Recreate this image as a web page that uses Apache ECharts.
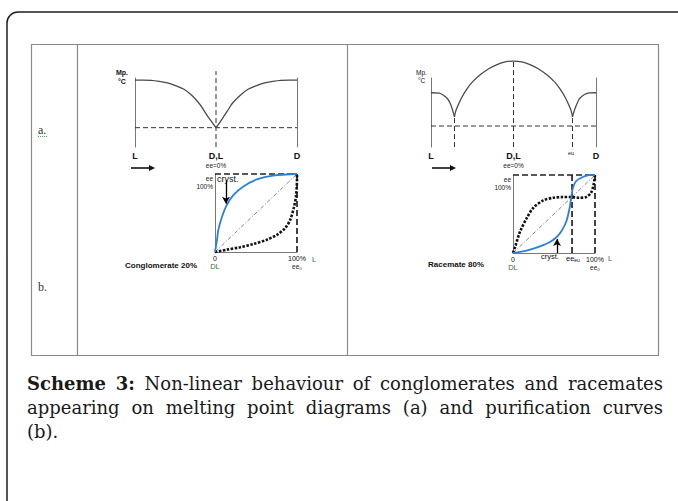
<!DOCTYPE html>
<html><head><meta charset="utf-8">
<script src="https://cdn.jsdelivr.net/npm/echarts/dist/echarts.min.js"></script>
<style>html,body{margin:0;padding:0;background:#fff}#c{width:678px;height:501px}</style>
</head><body><div id="c"></div>
<script>
// ================= DATA =================
// (a) melting point diagrams, x = ee from L (-100) to D (+100)
const mpTickValues = [-100, 0, 100];
const mpTickLabels = ['L', 'D,L', 'D'];
const mpTickSubLabels = ['', 'ee=0%', ''];

// conglomerate: two branches meeting at the eutectic (ee = 0)
const congLeftX  = [-100, -90, -80, -70, -60, -50, -40, -30, -20, -15, -10, -5, 0];
const congLeftY  = [97, 97, 96.5, 95, 93, 89, 84, 75, 62, 53, 44, 36, 28];
const congRightX = [0, 5, 10, 15, 20, 30, 40, 50, 60, 70, 80, 90, 100];
const congRightY = [28, 36, 45, 54, 63, 75, 84, 89, 93, 95, 96.5, 97, 97];
const congEutectic = 28;
const congCenterTop = 110;

// racemate: pure-enantiomer branches + racemic-compound dome
const racLeftX  = [-100, -90, -85, -80, -77, -74.5, -71.5];
const racLeftY  = [78.6, 78, 75, 70, 64, 56, 43.5];
const racDomeX  = [-71.5, -70, -67, -63, -57, -50, -40, -30, -20, -10, 0, 10, 20, 30, 40, 50, 57, 63, 67, 70, 71.5];
const racDomeY  = [43.5, 52, 61, 71, 83, 94, 105, 113.5, 119.5, 123.5, 124.6, 123.5, 119.5, 113.5, 105, 94, 83, 71, 61, 52, 43.5];
const racRightX = [71.5, 73, 76, 80, 86, 92, 100];
const racRightY = [43.5, 50, 60, 70, 76, 78.5, 78.6];
const racEutecticX = [-71.5, 71.5];
const racEutecticY = 30.4;
const racCusp = 43.5;
const racCenterTop = 124.6;

// (b) purification curves, x = ee0 (%), y = ee of crystals (%)
const purTickValues = [0, 100];
const purTickLabels = ['0', '100%'];
const purTickSubLabels = ['DL', 'ee\u2080'];

const congBlueX  = [0, 2.5, 4, 8.2, 14.3, 22.4, 34.7, 51, 71, 100];
const congBlueY  = [0, 16, 28, 44, 60, 73, 84, 93, 98, 100];
const congBlackX = [0, 14.3, 30.6, 47, 63.3, 75.5, 85.7, 91.8, 96, 98.8, 100, 100];
const congBlackY = [0, 3, 6, 10.3, 15.8, 22, 30.8, 41.5, 56.4, 71.4, 95, 100];
const congArrow  = [[13.4, 92], [13.4, 62]];

const racBlackX = [0, 2.8, 8.8, 16.9, 24.9, 37, 49, 61, 71.1, 81.1, 89.2, 95.2, 98.4, 100];
const racBlackY = [0, 8.6, 27.9, 45, 58, 67.4, 70.8, 71.7, 71.7, 70.8, 71.7, 77.3, 88, 100];
const racBlueX  = [0, 8.8, 20.9, 32.9, 45, 53, 59, 65.1, 69.1, 71.1, 73.1, 77.1, 85.1, 93.2, 100];
const racBlueY  = [0, 1.3, 4.3, 8.6, 14.2, 20.2, 27.9, 40.8, 57.9, 71.7, 83.7, 92.3, 97.4, 100, 100];
const racEeEu = 72;
const racArrow = [[53.7, 0], [53.7, 18]];

// caption
const captionLines = [
  'Scheme 3: Non-linear behaviour of conglomerates and racemates',
  'appearing on melting point diagrams (a) and purification curves',
  '(b).'
];
const captionBoldWords = 2;

// ================= HELPERS =================
const pairs = (xs, ys) => xs.map((x, i) => [x, ys[i]]);
const SANS = '"Liberation Sans", Arial, sans-serif';
const SERIF = '"DejaVu Serif", serif';
const GREEN = '#2f7a2f';

const curveGray = { color: '#4a4a4a', width: 1.3 };
const thinDash  = { color: '#333', width: 1, type: [5, 3] };
const boxDash   = { color: '#222', width: 1.7, type: [6, 3] };
const diagDash  = { color: '#666', width: 0.8, type: [4, 2, 1, 2] };
const blackDot  = { color: '#111', width: 2.6, type: [2.5, 1.5] };
const blueLine  = { color: '#2b80d8', width: 1.8 };

function line(name, gi, data, ls, extra) {
  return Object.assign({
    name, type: 'line', xAxisIndex: gi, yAxisIndex: gi * 2, data,
    showSymbol: false, symbol: 'none', clip: false, silent: true,
    lineStyle: ls, animation: false, z: 3
  }, extra || {});
}

// ================= GRIDS/AXES =================
const grids = [
  { left: 135, top: 78, width: 162, height: 69 },
  { left: 431, top: 78, width: 165, height: 69 },
  { left: 215, top: 174, width: 82, height: 78 },
  { left: 513, top: 175, width: 82, height: 78 }
];

function mpXAxis(gi) {
  return {
    gridIndex: gi, type: 'value', min: -100, max: 100, interval: 100,
    axisLine: { show: false }, axisTick: { show: false }, splitLine: { show: false },
    axisLabel: {
      margin: 4, showMinLabel: true, showMaxLabel: true,
      formatter: v => {
        const i = mpTickValues.indexOf(v);
        if (i < 0) return '';
        return mpTickSubLabels[i] ? mpTickLabels[i] + '\n{s|' + mpTickSubLabels[i] + '}' : mpTickLabels[i];
      },
      color: '#111', fontSize: 9, fontWeight: 'bold', fontFamily: SANS, lineHeight: 10,
      rich: { s: { fontSize: 6.5, fontWeight: 'normal', color: '#222', fontFamily: SANS, lineHeight: 9 } }
    }
  };
}
function purXAxis(gi) {
  return {
    gridIndex: gi, type: 'value', min: 0, max: 100, interval: 100,
    axisLine: { show: true, onZero: false, lineStyle: { color: '#777', width: 1 } },
    axisTick: { show: false }, splitLine: { show: false },
    axisLabel: {
      margin: 2, showMinLabel: true, showMaxLabel: true,
      formatter: v => {
        const i = purTickValues.indexOf(v);
        if (i < 0) return '';
        return purTickLabels[i] + '\n{' + (i === 0 ? 'g' : 'n') + '|' + purTickSubLabels[i] + '}';
      },
      color: '#111', fontSize: 7, fontFamily: SANS, lineHeight: 8,
      rich: {
        g: { color: GREEN, fontSize: 7.5, fontFamily: SANS, lineHeight: 8 },
        n: { color: '#222', fontSize: 6.5, fontFamily: SANS, lineHeight: 8 }
      }
    }
  };
}
function yAxes(gi, withLabel) {
  const base = {
    gridIndex: gi, type: 'value', min: 0, max: 100, interval: 100,
    axisTick: { show: false }, splitLine: { show: false }
  };
  const left = Object.assign({}, base, {
    position: 'left',
    axisLine: { show: true, onZero: false, lineStyle: { color: '#777', width: 1 } },
    axisLabel: withLabel ? {
      margin: 2, verticalAlign: 'top', align: 'right', showMaxLabel: true,
      formatter: v => (v === 100 ? 'ee\n100%' : ''),
      color: '#222', fontSize: 6.5, fontFamily: SANS, lineHeight: 8
    } : { show: false }
  });
  const right = Object.assign({}, base, {
    position: 'right',
    axisLine: { show: !withLabel, onZero: false, lineStyle: { color: '#777', width: 1 } },
    axisLabel: { show: false }
  });
  return [left, right];
}

// ================= SERIES =================
const series = [
  // grid 0: conglomerate melting diagram
  line('congEu', 0, [[-100, congEutectic], [100, congEutectic]], thinDash),
  line('congCenter', 0, [[0, 0], [0, congCenterTop]], thinDash),
  line('congL', 0, pairs(congLeftX, congLeftY), curveGray, { smooth: 0.3 }),
  line('congR', 0, pairs(congRightX, congRightY), curveGray, { smooth: 0.3 }),
  // grid 1: racemate melting diagram
  line('racEu', 1, [[-100, racEutecticY], [100, racEutecticY]], thinDash),
  line('racCenter', 1, [[0, 0], [0, racCenterTop]], thinDash),
  line('racV1', 1, [[racEutecticX[0], 0], [racEutecticX[0], racCusp]], thinDash),
  line('racV2', 1, [[racEutecticX[1], 0], [racEutecticX[1], racCusp]], thinDash),
  line('racL', 1, pairs(racLeftX, racLeftY), curveGray, { smooth: 0.3 }),
  line('racDome', 1, pairs(racDomeX, racDomeY), curveGray, { smooth: 0.4 }),
  line('racR', 1, pairs(racRightX, racRightY), curveGray, { smooth: 0.3 }),
  // grid 2: conglomerate purification
  line('cTop', 2, [[0, 100], [100, 100]], boxDash),
  line('cRight', 2, [[100, 100], [100, 0]], boxDash),
  line('cDiag', 2, [[0, 0], [100, 100]], diagDash),
  line('cBlack', 2, pairs(congBlackX, congBlackY), blackDot, { smooth: 0.3 }),
  line('cBlue', 2, pairs(congBlueX, congBlueY), blueLine, {
    smooth: 0.3, z: 4,
    markLine: {
      silent: true, symbol: ['none', 'arrow'], symbolSize: [6, 7], animation: false,
      label: { show: false }, lineStyle: { color: '#000', width: 1.3, type: 'solid' },
      data: [[{ coord: congArrow[0] }, { coord: congArrow[1] }]]
    }
  }),
  // grid 3: racemate purification
  line('rTop', 3, [[0, 100], [100, 100]], boxDash),
  line('rRight', 3, [[100, 100], [100, 0]], boxDash),
  line('rEu', 3, [[racEeEu, 0], [racEeEu, 100]], boxDash),
  line('rDiag', 3, [[0, 0], [100, 100]], diagDash),
  line('rBlack', 3, pairs(racBlackX, racBlackY), blackDot, { smooth: 0.3 }),
  line('rBlue', 3, pairs(racBlueX, racBlueY), blueLine, {
    smooth: 0.3, z: 4,
    markLine: {
      silent: true, symbol: ['none', 'arrow'], symbolSize: [6, 7], animation: false,
      label: { show: false }, lineStyle: { color: '#000', width: 1.3, type: 'solid' },
      data: [[{ coord: racArrow[0] }, { coord: racArrow[1] }]]
    }
  })
];

// ================= GRAPHIC (frame, labels, caption) =================
function txt(x, y, text, o) {
  o = o || {};
  return {
    type: 'text', x, y, silent: true, z: 10,
    style: {
      text, fill: o.fill || '#111', fontSize: o.size || 8, fontFamily: o.family || SANS,
      fontWeight: o.weight || 'normal', align: o.align || 'left', verticalAlign: 'middle',
      rich: o.rich
    }
  };
}
function arrowRight(x1, x2, y) {
  return [
    { type: 'line', silent: true, shape: { x1, y1: y, x2: x2 - 4, y2: y }, style: { stroke: '#111', lineWidth: 1.6 } },
    { type: 'polygon', silent: true, shape: { points: [[x2 - 6, y - 3], [x2, y], [x2 - 6, y + 3]] }, style: { fill: '#111' } }
  ];
}

function buildCaption() {
  const ctx = document.createElement('canvas').getContext('2d');
  const left = 27, right = 663, top = 383, gapY = 24, size = 18;
  const els = [];
  captionLines.forEach((ln, li) => {
    const words = ln.split(' ');
    const weights = words.map((w, wi) => (li === 0 && wi < captionBoldWords) ? 'bold' : 'normal');
    const widths = words.map((w, wi) => { ctx.font = `${weights[wi]} ${size}px "DejaVu Serif"`; return ctx.measureText(w).width; });
    const total = widths.reduce((a, b) => a + b, 0);
    ctx.font = `normal ${size}px "DejaVu Serif"`;
    const sp = ctx.measureText(' ').width;
    const justify = li < captionLines.length - 1 && words.length > 1;
    const gap = justify ? (right - left - total) / (words.length - 1) : sp;
    let x = left;
    words.forEach((w, wi) => {
      els.push(txt(x, top + li * gapY, w, { size, family: SERIF, weight: weights[wi], fill: '#1a1a1a' }));
      x += widths[wi] + gap;
    });
  });
  return els;
}

const graphic = [
  { type: 'rect', silent: true, shape: { x: 7, y: 12, width: 720, height: 560, r: 11 }, style: { fill: 'none', stroke: '#1e1e1e', lineWidth: 1.5 } },
  { type: 'rect', silent: true, shape: { x: 31.5, y: 44.5, width: 627, height: 311 }, style: { fill: 'none', stroke: '#8a8a8a', lineWidth: 1.2 } },
  { type: 'line', silent: true, shape: { x1: 77.5, y1: 44.5, x2: 77.5, y2: 355.5 }, style: { stroke: '#8a8a8a', lineWidth: 1.2 } },
  { type: 'line', silent: true, shape: { x1: 347.5, y1: 44.5, x2: 347.5, y2: 355.5 }, style: { stroke: '#8a8a8a', lineWidth: 1.2 } },
  txt(38, 130, 'a.', { size: 12, family: '"Liberation Serif", serif', fill: '#333' }),
  { type: 'line', silent: true, shape: { x1: 38, y1: 136.5, x2: 47, y2: 136.5 }, style: { stroke: '#4caf50', lineWidth: 1, lineDash: [1, 1] } },
  txt(38, 287, 'b.', { size: 12, family: '"Liberation Serif", serif', fill: '#333' }),
  // melting point labels
  txt(116, 72, 'Mp.', { size: 7, weight: 'bold' }),
  txt(118, 81, '\u00b0C', { size: 7, weight: 'bold' }),
  txt(416, 72, 'Mp.', { size: 6.5 }),
  txt(418, 80, '\u00b0C', { size: 6.5 }),
  txt(571, 153, 'eu', { size: 5.5, align: 'center' }),
  ...arrowRight(131, 155, 168),
  ...arrowRight(432, 456, 168),
  // purification labels
  txt(217, 179, 'cryst.', { size: 9 }),
  txt(312, 259, 'L', { size: 7.5, fill: GREEN }),
  txt(125, 265, 'Conglomerate 20%', { size: 8, weight: 'bold' }),
  txt(541, 256, 'cryst.', { size: 7.5 }),
  txt(566, 258, 'ee{s|eu}', { size: 7.5, rich: { s: { fontSize: 5, fontFamily: SANS, fill: '#111', verticalAlign: 'bottom', padding: [4, 0, 0, 0] } } }),
  txt(608, 258, 'L', { size: 7.5, fill: GREEN }),
  txt(428, 264, 'Racemate 80%', { size: 8, weight: 'bold' }),
  ...buildCaption()
];

const chart = echarts.init(document.getElementById('c'), null, { renderer: 'svg', width: 678, height: 501 });
const ya = [].concat(yAxes(0, false), yAxes(1, false), yAxes(2, true), yAxes(3, true));
chart.setOption({
  backgroundColor: '#fff',
  animation: false,
  grid: grids,
  xAxis: [mpXAxis(0), mpXAxis(1), purXAxis(2), purXAxis(3)],
  yAxis: ya,
  series,
  graphic
});
</script>
</body></html>
